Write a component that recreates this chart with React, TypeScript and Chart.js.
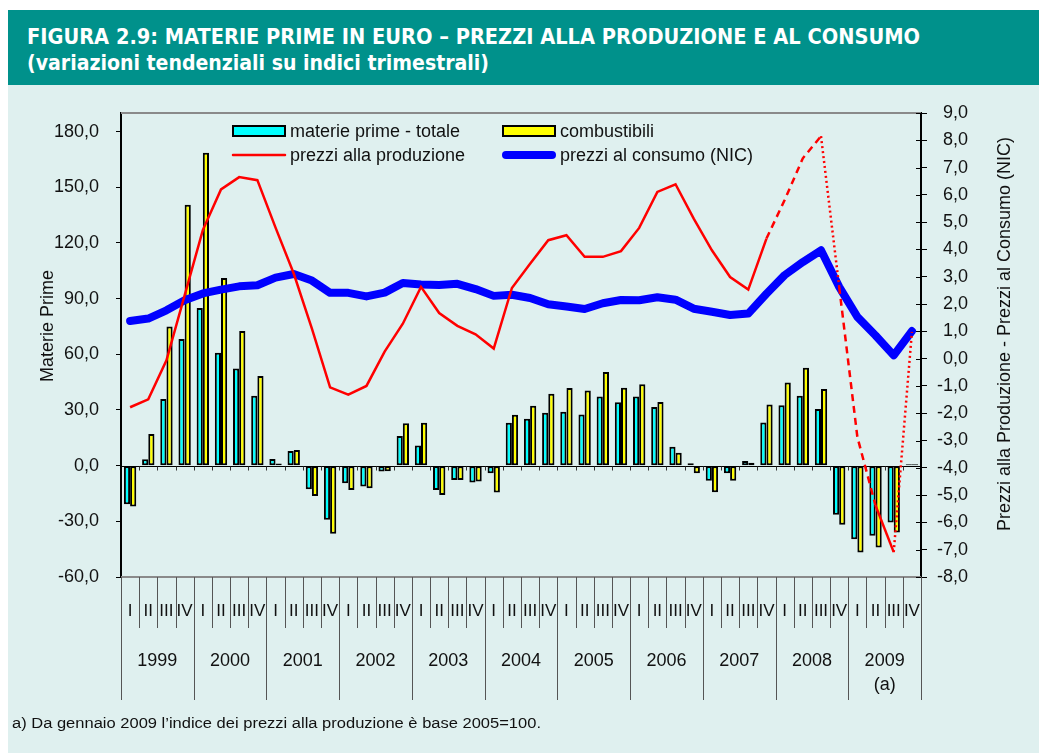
import React, { useEffect, useLayoutEffect, useRef } from 'react';
import { Chart, registerables } from 'chart.js';

Chart.register(...registerables);

// ---------- DATA ----------
const years = ['1999', '2000', '2001', '2002', '2003', '2004', '2005', '2006', '2007', '2008', '2009'];
const quarters = ['I', 'II', 'III', 'IV'];
const categories = years.flatMap((y) => quarters.map((q) => `${q} ${y}`));

// Materie prime - totale (left axis)
const materiePrime = [
  -20.8, 3.4, 35.9, 68.2,
  85.0, 60.8, 52.4, 37.7,
  3.6, 7.9, -12.7, -29.2,
  -9.5, -11.3, -3.2, 16.0,
  10.8, -13.1, -7.7, -9.1,
  -4.1, 23.1, 25.3, 28.5,
  29.0, 27.6, 37.3, 34.1,
  37.3, 31.6, 10.2, 1.3,
  -8.1, -4.1, 2.5, 23.3,
  32.6, 37.7, 30.5, -26.5,
  -39.6, -37.8, -30.7, 0.8,
];

// Combustibili (left axis)
const combustibili = [
  -22.0, 17.0, 75.0, 140.6,
  168.6, 101.1, 72.5, 48.3,
  1.1, 8.4, -16.3, -36.7,
  -13.1, -12.2, -3.0, 22.8,
  23.1, -15.8, -7.7, -8.6,
  -14.5, 27.4, 32.3, 38.7,
  41.8, 40.5, 50.4, 42.0,
  43.8, 34.3, 7.0, -4.1,
  -14.3, -8.2, 1.6, 33.0,
  44.8, 52.7, 41.3, -31.9,
  -46.8, -44.1, -36.0, 0.8,
];

// Prezzi alla produzione (right axis)
const prezziProduzione = [
  -1.78, -1.49, -0.06, 2.32,
  4.71, 6.2, 6.65, 6.54,
  4.8, 3.12, 1.1, -1.05,
  -1.32, -1.0, 0.26, 1.28,
  2.63, 1.67, 1.2, 0.89,
  0.37, 2.59, 3.48, 4.34,
  4.52, 3.73, 3.73, 3.94,
  4.79, 6.11, 6.39, 5.13,
  3.97, 2.99, 2.53, 4.4,
  5.81, 7.34, 8.15, 2.63,
  -2.87, -5.38, -7.09, 0.98,
];

// Prezzi al consumo (NIC) (right axis)
const prezziConsumo = [
  1.38, 1.47, 1.77, 2.14,
  2.39, 2.53, 2.65, 2.69,
  2.97, 3.1, 2.86, 2.41,
  2.41, 2.28, 2.42, 2.77,
  2.72, 2.7, 2.74, 2.55,
  2.3, 2.34, 2.22, 1.99,
  1.91, 1.82, 2.03, 2.15,
  2.14, 2.25, 2.16, 1.83,
  1.72, 1.6, 1.65, 2.38,
  3.06, 3.54, 3.97, 2.63,
  1.53, 0.85, 0.12, 1.01,
];

const seriesNames = ['materie prime - totale', 'combustibili', 'prezzi alla produzione', 'prezzi al consumo (NIC)'];
const leftTitle = 'Materie Prime';
const rightTitle = 'Prezzi alla Produzione - Prezzi al Consumo (NIC)';
const yearNote = '(a)';
const titleLine1 = 'FIGURA 2.9: MATERIE PRIME IN EURO \u2013 PREZZI ALLA PRODUZIONE E AL CONSUMO';
const titleLine2 = '(variazioni tendenziali su indici trimestrali)';
const footnote = 'a) Da gennaio 2009 l\u2019indice dei prezzi alla produzione \u00e8 base 2005=100.';

// ---------- STYLE ----------
const FONT = "'Liberation Sans', Arial, sans-serif";
const BG = '#dff0ef';
const TEAL = '#00918b';

const fmt = (v: number) => Number(v).toFixed(1).replace('.', ',');

const DASH = [7, 5];
const DOT = [2, 3];
function producerDash(i: number): number[] | undefined {
  if (i >= 35 && i <= 37) return DASH;
  if (i === 38) return DOT;
  if (i === 39 || i === 40) return DASH;
  if (i === 42) return DOT;
  return undefined;
}

const decorPlugin = {
  id: 'decor',
  beforeDatasetsDraw(chart: any) {
    const { ctx, chartArea: ca, scales } = chart;
    const y0 = Math.round(scales.y.getPixelForValue(0)) + 0.5;
    ctx.save();
    ctx.strokeStyle = '#000';
    ctx.lineWidth = 1;
    ctx.beginPath();
    ctx.moveTo(ca.left, y0);
    ctx.lineTo(ca.right, y0);
    ctx.stroke();
    ctx.strokeStyle = '#333';
    for (let i = 1; i < categories.length; i++) {
      const px = Math.round(scales.x.getPixelForValue(i - 0.5)) + 0.5;
      ctx.beginPath();
      ctx.moveTo(px, y0);
      ctx.lineTo(px, y0 + 4);
      ctx.stroke();
    }
    ctx.restore();
  },
  afterDraw(chart: any) {
    const { ctx, chartArea: ca, scales } = chart;
    const xs = scales.x;
    ctx.save();

    // frame top / bottom (gray)
    ctx.strokeStyle = '#8a8a8a';
    ctx.lineWidth = 2;
    ctx.beginPath();
    ctx.moveTo(ca.left, ca.top);
    ctx.lineTo(ca.right, ca.top);
    ctx.moveTo(ca.left, ca.bottom);
    ctx.lineTo(ca.right, ca.bottom);
    ctx.stroke();

    // inner ticks of right axis
    ctx.strokeStyle = '#000';
    ctx.lineWidth = 1;
    scales.y1.ticks.forEach((t: any) => {
      const py = Math.round(scales.y1.getPixelForValue(t.value)) + 0.5;
      ctx.beginPath();
      ctx.moveTo(ca.right - 5, py);
      ctx.lineTo(ca.right, py);
      ctx.stroke();
    });

    // category axis: separators
    ctx.strokeStyle = '#555';
    ctx.lineWidth = 1;
    for (let i = 0; i <= categories.length; i++) {
      const px = Math.round(xs.getPixelForValue(i - 0.5)) + 0.5;
      const isYear = i % 4 === 0;
      ctx.beginPath();
      ctx.moveTo(px, ca.bottom);
      ctx.lineTo(px, ca.bottom + (isYear ? 123 : 51));
      ctx.stroke();
    }
    // labels
    ctx.fillStyle = '#111';
    ctx.textAlign = 'center';
    ctx.textBaseline = 'middle';
    ctx.font = `17px ${FONT}`;
    categories.forEach((_, i) => {
      ctx.fillText(quarters[i % 4], xs.getPixelForValue(i), ca.bottom + 34);
    });
    ctx.font = `18px ${FONT}`;
    years.forEach((yr, k) => {
      const cx = (xs.getPixelForValue(k * 4 - 0.5) + xs.getPixelForValue(k * 4 + 3.5)) / 2;
      ctx.fillText(yr, cx, ca.bottom + 84);
      if (k === years.length - 1) ctx.fillText(yearNote, cx, ca.bottom + 108);
    });

    // axis titles
    ctx.font = `18px ${FONT}`;
    ctx.save();
    ctx.translate(48, ca.top + 213);
    ctx.rotate(-Math.PI / 2);
    ctx.fillText(leftTitle, 0, 0);
    ctx.restore();
    ctx.save();
    ctx.translate(1005, ca.top + 221);
    ctx.rotate(-Math.PI / 2);
    ctx.fillText(rightTitle, 0, 0);
    ctx.restore();

    // legend
    const ds = chart.data.datasets;
    const cols = [ca.left + 112, ca.left + 382];
    const rows = [ca.top + 18, ca.top + 42];
    const entries = [
      { label: ds[2].label, kind: 'bar', color: ds[2].backgroundColor, col: 0, row: 0 },
      { label: ds[3].label, kind: 'bar', color: ds[3].backgroundColor, col: 1, row: 0 },
      { label: ds[0].label, kind: 'line', color: ds[0].borderColor, w: ds[0].borderWidth, col: 0, row: 1 },
      { label: ds[1].label, kind: 'line', color: ds[1].borderColor, w: ds[1].borderWidth, col: 1, row: 1 },
    ];
    ctx.font = `18px ${FONT}`;
    ctx.textAlign = 'left';
    entries.forEach((e: any) => {
      const x0 = cols[e.col];
      const yc = rows[e.row];
      if (e.kind === 'bar') {
        ctx.fillStyle = e.color;
        ctx.fillRect(x0, yc - 5, 52, 10);
        ctx.strokeStyle = '#000';
        ctx.lineWidth = 2;
        ctx.strokeRect(x0, yc - 5, 52, 10);
      } else {
        ctx.strokeStyle = e.color;
        ctx.lineWidth = e.w;
        ctx.lineCap = 'round';
        ctx.beginPath();
        ctx.moveTo(x0 + (e.w > 4 ? 3 : 0), yc);
        ctx.lineTo(x0 + 52 - (e.w > 4 ? 3 : 0), yc);
        ctx.stroke();
      }
      ctx.fillStyle = '#111';
      ctx.fillText(e.label, x0 + 57, yc + 1);
    });

    ctx.restore();
  },
};

function FitText({ text, width, style }: { text: string; width: number; style: React.CSSProperties }) {
  const ref = useRef<HTMLSpanElement>(null);
  useLayoutEffect(() => {
    const el = ref.current;
    if (!el) return;
    el.style.transform = 'none';
    const w = el.getBoundingClientRect().width;
    if (w > 0) el.style.transform = `scaleX(${width / w})`;
  }, [text, width]);
  return (
    <span
      ref={ref}
      style={{ display: 'inline-block', whiteSpace: 'nowrap', transformOrigin: 'left center', ...style }}
    >
      {text}
    </span>
  );
}

export default function App() {
  const canvasRef = useRef<HTMLCanvasElement>(null);

  useEffect(() => {
    document.body.style.margin = '0';
    document.body.style.overflow = 'hidden';
    const canvas = canvasRef.current;
    if (!canvas) return;
    const chart = new Chart(canvas, {
      type: 'bar',
      data: {
        labels: categories,
        datasets: [
          {
            type: 'line',
            label: seriesNames[2],
            data: prezziProduzione,
            yAxisID: 'y1',
            borderColor: '#ff0000',
            backgroundColor: '#ff0000',
            borderWidth: 2.5,
            pointRadius: 0,
            tension: 0,
            order: 0,
            segment: {
              borderDash: (c: any) => producerDash(c.p0DataIndex),
            },
          } as any,
          {
            type: 'line',
            label: seriesNames[3],
            data: prezziConsumo,
            yAxisID: 'y1',
            borderColor: '#0000ff',
            backgroundColor: '#0000ff',
            borderWidth: 8,
            borderJoinStyle: 'round',
            borderCapStyle: 'round',
            pointRadius: 0,
            tension: 0,
            order: 1,
          } as any,
          {
            type: 'bar',
            label: seriesNames[0],
            data: materiePrime,
            yAxisID: 'y',
            backgroundColor: '#00ffff',
            borderColor: '#000000',
            borderWidth: 2,
            borderSkipped: false,
            categoryPercentage: 0.68,
            barPercentage: 1.0,
            order: 2,
          } as any,
          {
            type: 'bar',
            label: seriesNames[1],
            data: combustibili,
            yAxisID: 'y',
            backgroundColor: '#ffff00',
            borderColor: '#000000',
            borderWidth: 2,
            borderSkipped: false,
            categoryPercentage: 0.68,
            barPercentage: 1.0,
            order: 2,
          } as any,
        ],
      },
      options: {
        responsive: false,
        maintainAspectRatio: false,
        animation: false,
        devicePixelRatio: 1,
        layout: { padding: { top: 28, bottom: 176, left: 0, right: 71 } },
        plugins: {
          legend: { display: false },
          tooltip: { enabled: false },
          title: { display: false },
        },
        scales: {
          x: {
            type: 'category',
            display: false,
            offset: true,
            grid: { offset: true },
          },
          y: {
            position: 'left',
            min: -60,
            max: 190,
            afterFit: (s: any) => {
              s.width = 121;
            },
            ticks: {
              stepSize: 30,
              includeBounds: false,
              padding: 17,
              color: '#111',
              font: { family: FONT, size: 18 },
              callback: (v: any) => fmt(v),
            },
            grid: { drawOnChartArea: false, drawTicks: true, tickLength: 5, color: '#000', lineWidth: 1 },
            border: { display: true, color: '#000', width: 2 },
          },
          y1: {
            position: 'right',
            min: -8,
            max: 9,
            afterFit: (s: any) => {
              s.width = 47;
            },
            ticks: {
              stepSize: 1,
              padding: 10,
              crossAlign: 'far',
              color: '#111',
              font: { family: FONT, size: 18 },
              callback: (v: any) => fmt(v),
            },
            grid: { drawOnChartArea: false, drawTicks: true, tickLength: 6, color: '#000', lineWidth: 1 },
            border: { display: true, color: '#000', width: 2 },
          },
        },
      } as any,
      plugins: [decorPlugin],
    });
    return () => chart.destroy();
  }, []);

  return (
    <div style={{ position: 'fixed', left: 0, top: 0, width: 1039, height: 753, background: '#fff', overflow: 'hidden' }}>
      <div style={{ position: 'absolute', left: 8, top: 10, width: 1031, height: 75, background: TEAL }}>
        <div style={{ position: 'absolute', left: 19, top: 15, lineHeight: '24px' }}>
          <FitText
            text={titleLine1}
            width={893}
            style={{ color: '#fff', fontWeight: 'bold', fontSize: 22, fontFamily: "'Liberation Sans Narrow', 'DejaVu Sans Condensed', 'Liberation Sans', sans-serif" }}
          />
        </div>
        <div style={{ position: 'absolute', left: 19, top: 41, lineHeight: '24px' }}>
          <FitText
            text={titleLine2}
            width={462}
            style={{ color: '#fff', fontWeight: 'bold', fontSize: 22, fontFamily: "'Liberation Sans Narrow', 'DejaVu Sans Condensed', 'Liberation Sans', sans-serif" }}
          />
        </div>
      </div>
      <div style={{ position: 'absolute', left: 8, top: 85, width: 1031, height: 668, background: BG }} />
      <canvas
        ref={canvasRef}
        width={1039}
        height={668}
        style={{ position: 'absolute', left: 0, top: 85, width: 1039, height: 668 }}
      />
      <div style={{ position: 'absolute', left: 12, top: 714, lineHeight: '18px' }}>
        <FitText text={footnote} width={529} style={{ fontSize: 14, fontFamily: FONT, color: '#111' }} />
      </div>
    </div>
  );
}
